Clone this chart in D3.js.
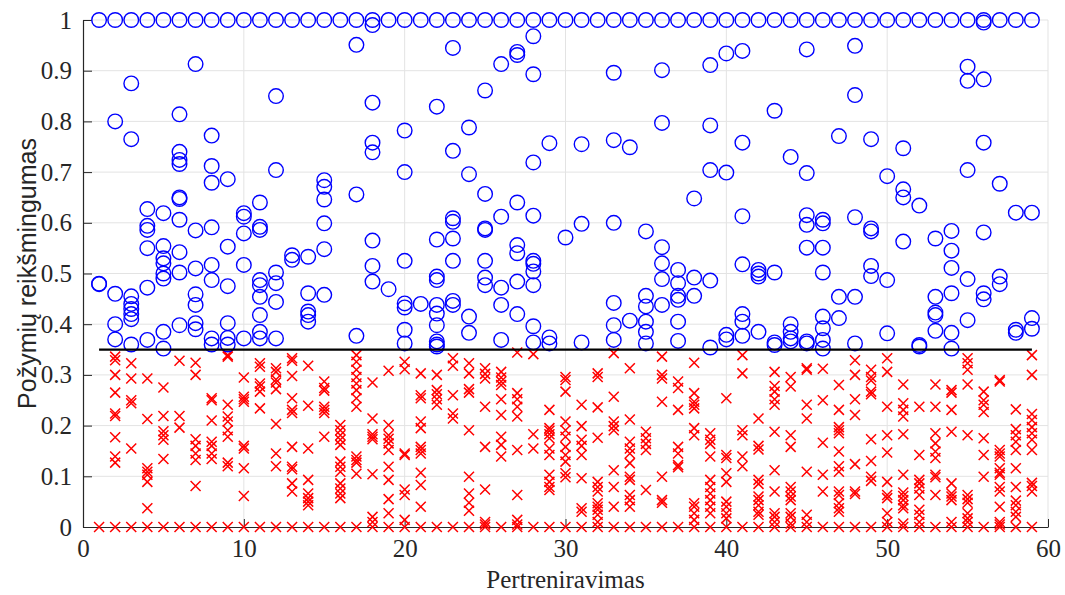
<!DOCTYPE html>
<html>
<head>
<meta charset="utf-8">
<script src="https://cdn.jsdelivr.net/npm/d3@7"></script>
<style>
  body { margin: 0; background: #fff; }
  svg { display: block; }
</style>
</head>
<body>
<div id="chart"></div>
<script>
// pertreniravimo numeriai
const runs = [1, 2, 3, 4, 5, 6, 7, 8, 9, 10, 11, 12, 13, 14, 15, 16, 17, 18, 19, 20,
    21, 22, 23, 24, 25, 26, 27, 28, 29, 30, 31, 32, 33, 34, 35, 36, 37, 38, 39, 40,
    41, 42, 43, 44, 45, 46, 47, 48, 49, 50, 51, 52, 53, 54, 55, 56, 57, 58, 59];

const threshold = 0.35;

// reiksmingi pozymiai (virs slenkscio), po viena masyva kiekvienam pertreniravimui
const selected = [
    [1, 0.48, 0.479],
    [1, 0.80, 0.46, 0.40, 0.37],
    [1, 0.875, 0.765, 0.455, 0.44, 0.43, 0.42, 0.41, 0.36],
    [1, 0.627, 0.594, 0.586, 0.55, 0.472, 0.369],
    [1, 0.619, 0.554, 0.53, 0.52, 0.50, 0.49, 0.385, 0.352],
    [1, 0.814, 0.74, 0.724, 0.716, 0.65, 0.647, 0.606, 0.542, 0.502, 0.398],
    [1, 0.913, 0.585, 0.51, 0.459, 0.438, 0.402, 0.39],
    [1, 0.772, 0.712, 0.679, 0.591, 0.517, 0.487, 0.372, 0.36],
    [1, 0.686, 0.553, 0.475, 0.402, 0.373, 0.36],
    [1, 0.619, 0.612, 0.579, 0.517, 0.372],
    [1, 0.64, 0.592, 0.586, 0.487, 0.477, 0.454, 0.418, 0.385, 0.372],
    [1, 0.85, 0.704, 0.502, 0.481, 0.444, 0.372],
    [1, 0.536, 0.527],
    [1, 0.533, 0.461, 0.425, 0.418, 0.405],
    [1, 0.684, 0.671, 0.646, 0.599, 0.548, 0.458],
    [1],
    [1, 0.951, 0.656, 0.377],
    [1, 0.99, 0.837, 0.758, 0.739, 0.565, 0.515, 0.484],
    [1, 0.469],
    [1, 0.782, 0.70, 0.525, 0.441, 0.433, 0.389, 0.362],
    [1, 0.44],
    [1, 0.829, 0.567, 0.494, 0.487, 0.438, 0.421, 0.398, 0.366, 0.36, 0.356],
    [1, 0.945, 0.742, 0.609, 0.602, 0.569, 0.525, 0.446, 0.438],
    [1, 0.788, 0.696, 0.415, 0.383],
    [1, 0.861, 0.657, 0.589, 0.586, 0.525, 0.492, 0.477],
    [1, 0.913, 0.612, 0.472, 0.438, 0.369],
    [1, 0.937, 0.931, 0.64, 0.556, 0.54, 0.484, 0.42],
    [1, 0.968, 0.893, 0.719, 0.614, 0.525, 0.519, 0.504, 0.477, 0.396, 0.364],
    [1, 0.757, 0.374, 0.362],
    [1, 0.571],
    [1, 0.755, 0.598, 0.364],
    [1],
    [1, 0.896, 0.763, 0.60, 0.442, 0.398, 0.369],
    [1, 0.749, 0.407],
    [1, 0.583, 0.456, 0.435, 0.405, 0.385, 0.362],
    [1, 0.901, 0.797, 0.552, 0.52, 0.489, 0.438],
    [1, 0.507, 0.481, 0.456, 0.448, 0.405, 0.367],
    [1, 0.648, 0.492, 0.456],
    [1, 0.911, 0.792, 0.704, 0.486, 0.354],
    [1, 0.934, 0.699, 0.379, 0.37],
    [1, 0.939, 0.758, 0.613, 0.518, 0.42, 0.405, 0.377],
    [1, 0.507, 0.50, 0.494, 0.385],
    [1, 0.821, 0.502, 0.364, 0.359],
    [1, 0.73, 0.40, 0.385, 0.372, 0.366],
    [1, 0.942, 0.698, 0.615, 0.596, 0.551, 0.366, 0.362],
    [1, 0.606, 0.599, 0.551, 0.502, 0.415, 0.392, 0.369, 0.352],
    [1, 0.771, 0.454, 0.412],
    [1, 0.949, 0.852, 0.611, 0.454, 0.362],
    [1, 0.765, 0.589, 0.583, 0.515, 0.495],
    [1, 0.692, 0.487, 0.382],
    [1, 0.747, 0.666, 0.65, 0.563],
    [1, 0.634, 0.359, 0.356],
    [1, 0.569, 0.454, 0.423, 0.418, 0.387],
    [1, 0.584, 0.545, 0.511, 0.461, 0.383, 0.352],
    [1, 0.908, 0.88, 0.704, 0.489, 0.408],
    [1, 0.995, 0.883, 0.758, 0.581, 0.461, 0.449],
    [1, 0.677, 0.494, 0.479],
    [1, 0.62, 0.389, 0.383],
    [1, 0.62, 0.412, 0.391]
];

// atmesti pozymiai (po slenksciu)
const rejected = [
    [0],
    [0.336, 0.329, 0.30, 0.265, 0.224, 0.219, 0.177, 0.139, 0.127, 0],
    [0.323, 0.293, 0.25, 0.244, 0.155, 0],
    [0.293, 0.213, 0.116, 0.109, 0.103, 0.089, 0.037, 0],
    [0.275, 0.219, 0.189, 0.181, 0.172, 0.134, 0],
    [0.328, 0.219, 0.196, 0],
    [0.324, 0.30, 0.173, 0.16, 0.145, 0.132, 0.081, 0],
    [0.254, 0.25, 0.21, 0.168, 0.16, 0.145, 0.134, 0],
    [0.339, 0.336, 0.241, 0.218, 0.208, 0.191, 0.178, 0.127, 0.12, 0],
    [0.295, 0.257, 0.252, 0.247, 0.16, 0.155, 0.116, 0.061, 0],
    [0.323, 0.316, 0.283, 0.277, 0.267, 0.234, 0],
    [0.313, 0.306, 0.291, 0.285, 0.272, 0.203, 0.145, 0.12, 0],
    [0.333, 0.328, 0.298, 0.254, 0.231, 0.225, 0.158, 0.119, 0.114, 0.086, 0.07, 0],
    [0.318, 0.239, 0.155, 0.093, 0.066, 0.057, 0.05, 0.043, 0],
    [0.287, 0.274, 0.269, 0.237, 0.231, 0.225, 0.178, 0],
    [0.201, 0.191, 0.181, 0.172, 0.162, 0.129, 0.119, 0.109, 0.086, 0.076, 0.066, 0.057, 0],
    [0.339, 0.326, 0.31, 0.296, 0.283, 0.27, 0.254, 0.237, 0.139, 0.132, 0.127, 0.105, 0],
    [0.285, 0.214, 0.183, 0.178, 0.173, 0.104, 0.02, 0.01, 0],
    [0.308, 0.201, 0.181, 0.174, 0.165, 0.152, 0.119, 0.093, 0.055, 0.027, 0],
    [0.326, 0.311, 0.145, 0.142, 0.074, 0.063, 0.014, 0],
    [0.303, 0.26, 0.254, 0.208, 0.195, 0.158, 0.152, 0.145, 0.107, 0.083, 0.04, 0],
    [0.30, 0.27, 0.262, 0.252, 0.241, 0],
    [0.333, 0.318, 0.26, 0.224, 0.214, 0],
    [0.323, 0.303, 0.272, 0.265, 0.191, 0.099, 0.066, 0.048, 0.032, 0],
    [0.313, 0.302, 0.293, 0.237, 0.158, 0.074, 0.01, 0.005, 0],
    [0.306, 0.295, 0.287, 0.28, 0.252, 0.221, 0.178, 0.162, 0.139, 0],
    [0.344, 0.264, 0.252, 0.237, 0.218, 0.152, 0.063, 0.014, 0.005, 0],
    [0.341, 0.183, 0.155, 0],
    [0.231, 0.195, 0.19, 0.183, 0.175, 0.155, 0.142, 0.103, 0.089, 0.079, 0.073, 0],
    [0.296, 0.29, 0.267, 0.208, 0.191, 0.178, 0.158, 0.142, 0.129, 0.106, 0.098, 0],
    [0.241, 0.199, 0.172, 0.16, 0.142, 0.096, 0.037, 0.03, 0],
    [0.303, 0.296, 0.236, 0.176, 0.089, 0.079, 0.07, 0.047, 0.04, 0.034, 0.024, 0.01, 0],
    [0.343, 0.257, 0.208, 0.199, 0.191, 0.112, 0.079, 0.04, 0],
    [0.313, 0.212, 0.168, 0.155, 0.145, 0.126, 0.099, 0.093, 0.063, 0.053, 0.04, 0],
    [0.188, 0.175, 0.164, 0.152, 0.073, 0],
    [0.336, 0.30, 0.293, 0.247, 0.099, 0.053, 0.048, 0],
    [0.287, 0.274, 0.231, 0.158, 0.145, 0.122, 0.118, 0],
    [0.324, 0.264, 0.247, 0.241, 0.234, 0.195, 0.181, 0.047, 0.04, 0.027, 0.014, 0],
    [0.185, 0.172, 0.164, 0.139, 0.093, 0.079, 0.066, 0.053, 0.04, 0.027, 0],
    [0.254, 0.142, 0.136, 0.106, 0.089, 0.05, 0.04, 0.027, 0.017, 0],
    [0.339, 0.303, 0.191, 0.181, 0.139, 0.12, 0],
    [0.214, 0.16, 0.153, 0.093, 0.085, 0.06, 0.053, 0.043, 0.03, 0.024, 0],
    [0.306, 0.278, 0.267, 0.252, 0.241, 0.188, 0.112, 0.07, 0.027, 0.02, 0.01, 0],
    [0.296, 0.277, 0.181, 0.158, 0.079, 0.07, 0.06, 0.053, 0.027, 0.02, 0.007, 0],
    [0.313, 0.31, 0.241, 0.214, 0.109, 0.024, 0.01, 0],
    [0.312, 0.25, 0.166, 0.103, 0.07, 0],
    [0.28, 0.231, 0.197, 0.191, 0.185, 0.149, 0.12, 0.109, 0.07, 0.063, 0.047, 0.037, 0.03, 0],
    [0.329, 0.30, 0.252, 0.221, 0.124, 0.07, 0.065, 0],
    [0.31, 0.296, 0.289, 0.267, 0.262, 0.173, 0.13, 0.099, 0.091, 0],
    [0.333, 0.306, 0.237, 0.181, 0.147, 0.089, 0.063, 0.057, 0.027, 0.01, 0],
    [0.281, 0.244, 0.231, 0.218, 0.183, 0.103, 0.068, 0.061, 0.053, 0.043, 0.037, 0.007, 0],
    [0.237, 0.142, 0.093, 0.086, 0.076, 0.063, 0.034, 0.024, 0.01, 0],
    [0.281, 0.237, 0.185, 0.165, 0.149, 0.136, 0.103, 0.098, 0.063, 0],
    [0.27, 0.265, 0.231, 0.188, 0.086, 0.066, 0.06, 0.053, 0.01, 0],
    [0.333, 0.323, 0.31, 0.281, 0.181, 0.063, 0.055, 0.048, 0.027, 0.017, 0.01, 0],
    [0.267, 0.25, 0.241, 0.227, 0.175, 0.142, 0.099, 0],
    [0.29, 0.287, 0.152, 0.145, 0.139, 0.116, 0.107, 0.103, 0.079, 0.07, 0.04, 0.01, 0.005, 0],
    [0.232, 0.193, 0.181, 0.168, 0.152, 0.116, 0.079, 0.052, 0.043, 0.03, 0.02, 0],
    [0.339, 0.30, 0.223, 0.211, 0.197, 0.185, 0.172, 0.152, 0.087, 0.081, 0.07, 0]
];

const xTicks = [0, 10, 20, 30, 40, 50, 60];
const yTicks = [0, 0.1, 0.2, 0.3, 0.4, 0.5, 0.6, 0.7, 0.8, 0.9, 1];

const width = 1065, height = 595;
const margin = { top: 20, right: 17, bottom: 68, left: 83 };

const svg = d3.select("#chart")
    .append("svg")
    .attr("width", width)
    .attr("height", height);

const x = d3.scaleLinear()
    .domain([0, 60])
    .range([margin.left, width - margin.right]);

const y = d3.scaleLinear()
    .domain([0, 1])
    .range([height - margin.bottom, margin.top]);

// grid
svg.append("g")
    .selectAll("line")
    .data(xTicks.slice(1))
    .join("line")
    .attr("x1", d => x(d)).attr("x2", d => x(d))
    .attr("y1", y(0)).attr("y2", y(1))
    .attr("stroke", "#e3e3e3");

svg.append("g")
    .selectAll("line")
    .data(yTicks.slice(1))
    .join("line")
    .attr("x1", x(0)).attr("x2", x(60))
    .attr("y1", d => y(d)).attr("y2", d => y(d))
    .attr("stroke", "#e3e3e3");

// axes
const xAxis = svg.append("g")
    .attr("transform", `translate(0,${y(0)})`)
    .call(d3.axisBottom(x).tickValues(xTicks).tickSizeInner(-8).tickSizeOuter(0).tickPadding(12));

const yAxis = svg.append("g")
    .attr("transform", `translate(${x(0)},0)`)
    .call(d3.axisLeft(y).tickValues(yTicks).tickSizeInner(-9).tickSizeOuter(0).tickPadding(11)
        .tickFormat(d => d3.format("")(+d.toFixed(1))));

[xAxis, yAxis].forEach(a => {
    a.select(".domain").attr("stroke", "#262626").attr("stroke-width", 1.2);
    a.selectAll(".tick line").attr("stroke", "#262626");
    a.selectAll("text")
        .attr("fill", "#262626")
        .style("font-family", "'Liberation Serif', 'Times New Roman', serif")
        .style("font-size", "25px");
});

// crosses
const crossPts = runs.flatMap((r, i) => rejected[i].map(v => ({ r, v })));
const s = 5;
svg.append("g")
    .selectAll("path")
    .data(crossPts)
    .join("path")
    .attr("d", d => {
        const cx = x(d.r), cy = y(d.v);
        return `M${cx - s},${cy - s}L${cx + s},${cy + s}M${cx - s},${cy + s}L${cx + s},${cy - s}`;
    })
    .attr("stroke", "#ff0000")
    .attr("stroke-width", 1.5)
    .attr("fill", "none");

// circles
const circlePts = runs.flatMap((r, i) => selected[i].map(v => ({ r, v })));
svg.append("g")
    .selectAll("circle")
    .data(circlePts)
    .join("circle")
    .attr("cx", d => x(d.r))
    .attr("cy", d => y(d.v))
    .attr("r", 7.3)
    .attr("fill", "none")
    .attr("stroke", "#0000ff")
    .attr("stroke-width", 1.4);

// threshold line
svg.append("line")
    .attr("x1", x(runs[0])).attr("x2", x(runs[runs.length - 1]))
    .attr("y1", y(threshold)).attr("y2", y(threshold))
    .attr("stroke", "#000")
    .attr("stroke-width", 2.2);

// labels
svg.append("text")
    .attr("x", (x(0) + x(60)) / 2)
    .attr("y", 588)
    .attr("text-anchor", "middle")
    .attr("fill", "#262626")
    .style("font-family", "'Liberation Serif', 'Times New Roman', serif")
    .style("font-size", "25px")
    .text("Pertreniravimas");

svg.append("text")
    .attr("transform", `translate(36,${(y(0) + y(1)) / 2}) rotate(-90)`)
    .attr("text-anchor", "middle")
    .attr("fill", "#262626")
    .style("font-family", "'Liberation Sans', Arial, sans-serif")
    .style("font-size", "25px")
    .text("Požymių reikšmingumas");
</script>
</body>
</html>
